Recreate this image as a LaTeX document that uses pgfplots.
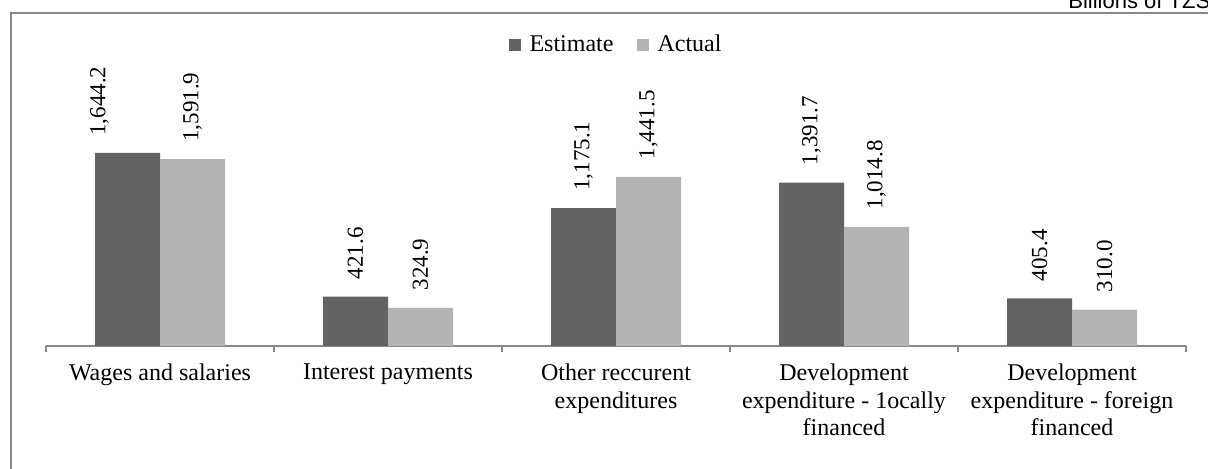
\documentclass[border=0pt]{standalone}
\usepackage{pgfplots}
\pgfplotsset{compat=1.18}
\usepackage{pgfplotstable}
\usepackage{fontspec}
\setmainfont{Liberation Serif}
\newfontfamily\arial{Liberation Sans}
\definecolor{estc}{HTML}{636363}
\definecolor{actc}{HTML}{B3B3B3}
\definecolor{framec}{HTML}{898989}

\pgfplotstableread{
x est act dxe
0 1644.2 1591.9 -14
1 421.6 324.9 0
2 1175.1 1441.5 0
3 1391.7 1014.8 0
4 405.4 310.0 0
}\data

\begin{document}
\begin{tikzpicture}[x=1pt,y=1pt]
\path[use as bounding box, clip] (0,0) rectangle (604,234.5);
\draw[framec, line width=0.6pt] (5.5,-20) rectangle (640,228);
\node[anchor=base west, font=\arial\fontsize{11}{13}\selectfont, inner sep=0pt] at (534,230.4) {Billions of TZS};
\begin{axis}[
  at={(23pt,61.5pt)}, anchor=south west,
  scale only axis, width=570pt, height=117.38pt,
  xmin=-0.5, xmax=4.5, ymin=0, ymax=2000,
  axis y line=none, axis x line*=bottom,
  axis line style={framec, line width=0.6pt},
  clip=false,
  xtick={0,1,2,3,4},
  major tick length=0pt,
  minor xtick={-0.5,0.5,1.5,2.5,3.5,4.5},
  minor tick length=3pt,
  tick align=outside,
  tick style={framec, line width=0.6pt},
  xticklabels={Wages and salaries, Interest payments, {Other reccurent\\expenditures}, {Development\\expenditure - 1ocally\\financed}, {Development\\expenditure - foreign\\financed}},
  xticklabel style={align=center, font=\fontsize{12}{13.8}\selectfont, yshift=-5.5pt},
  ybar=0pt, bar width=32.5pt,
  legend style={at={(0.5009,1.282)}, anchor=center, draw=none, fill=none, legend columns=2,
    font=\fontsize{12}{13.8}\selectfont,
    /tikz/every even column/.append style={column sep=9.5pt}},
  legend image code/.code={\fill[#1] (0pt,-3pt) rectangle (6pt,3pt); \path (0pt,0pt) (8.5pt,0pt);},
  nodes near coords={\pgfmathprintnumber[fixed,fixed zerofill,precision=1,1000 sep={,},assume math mode=true]{\pgfplotspointmeta}},
  nodes near coords style={font=\fontsize{11.5}{13.5}\selectfont},
]
\addplot[fill=estc, draw=none,
  visualization depends on={\thisrow{dxe} \as \dxe},
  every node near coord/.append style={xshift=\dxe pt, rotate=90, anchor=west, inner ysep=0pt, inner xsep=8.5pt}]
  table[x=x, y=est]{\data};
\addplot[fill=actc, draw=none,
  every node near coord/.append style={rotate=90, anchor=west, inner ysep=0pt, inner xsep=8.5pt}]
  table[x=x, y=act]{\data};
\legend{Estimate, Actual}
\end{axis}
\end{tikzpicture}
\end{document}
